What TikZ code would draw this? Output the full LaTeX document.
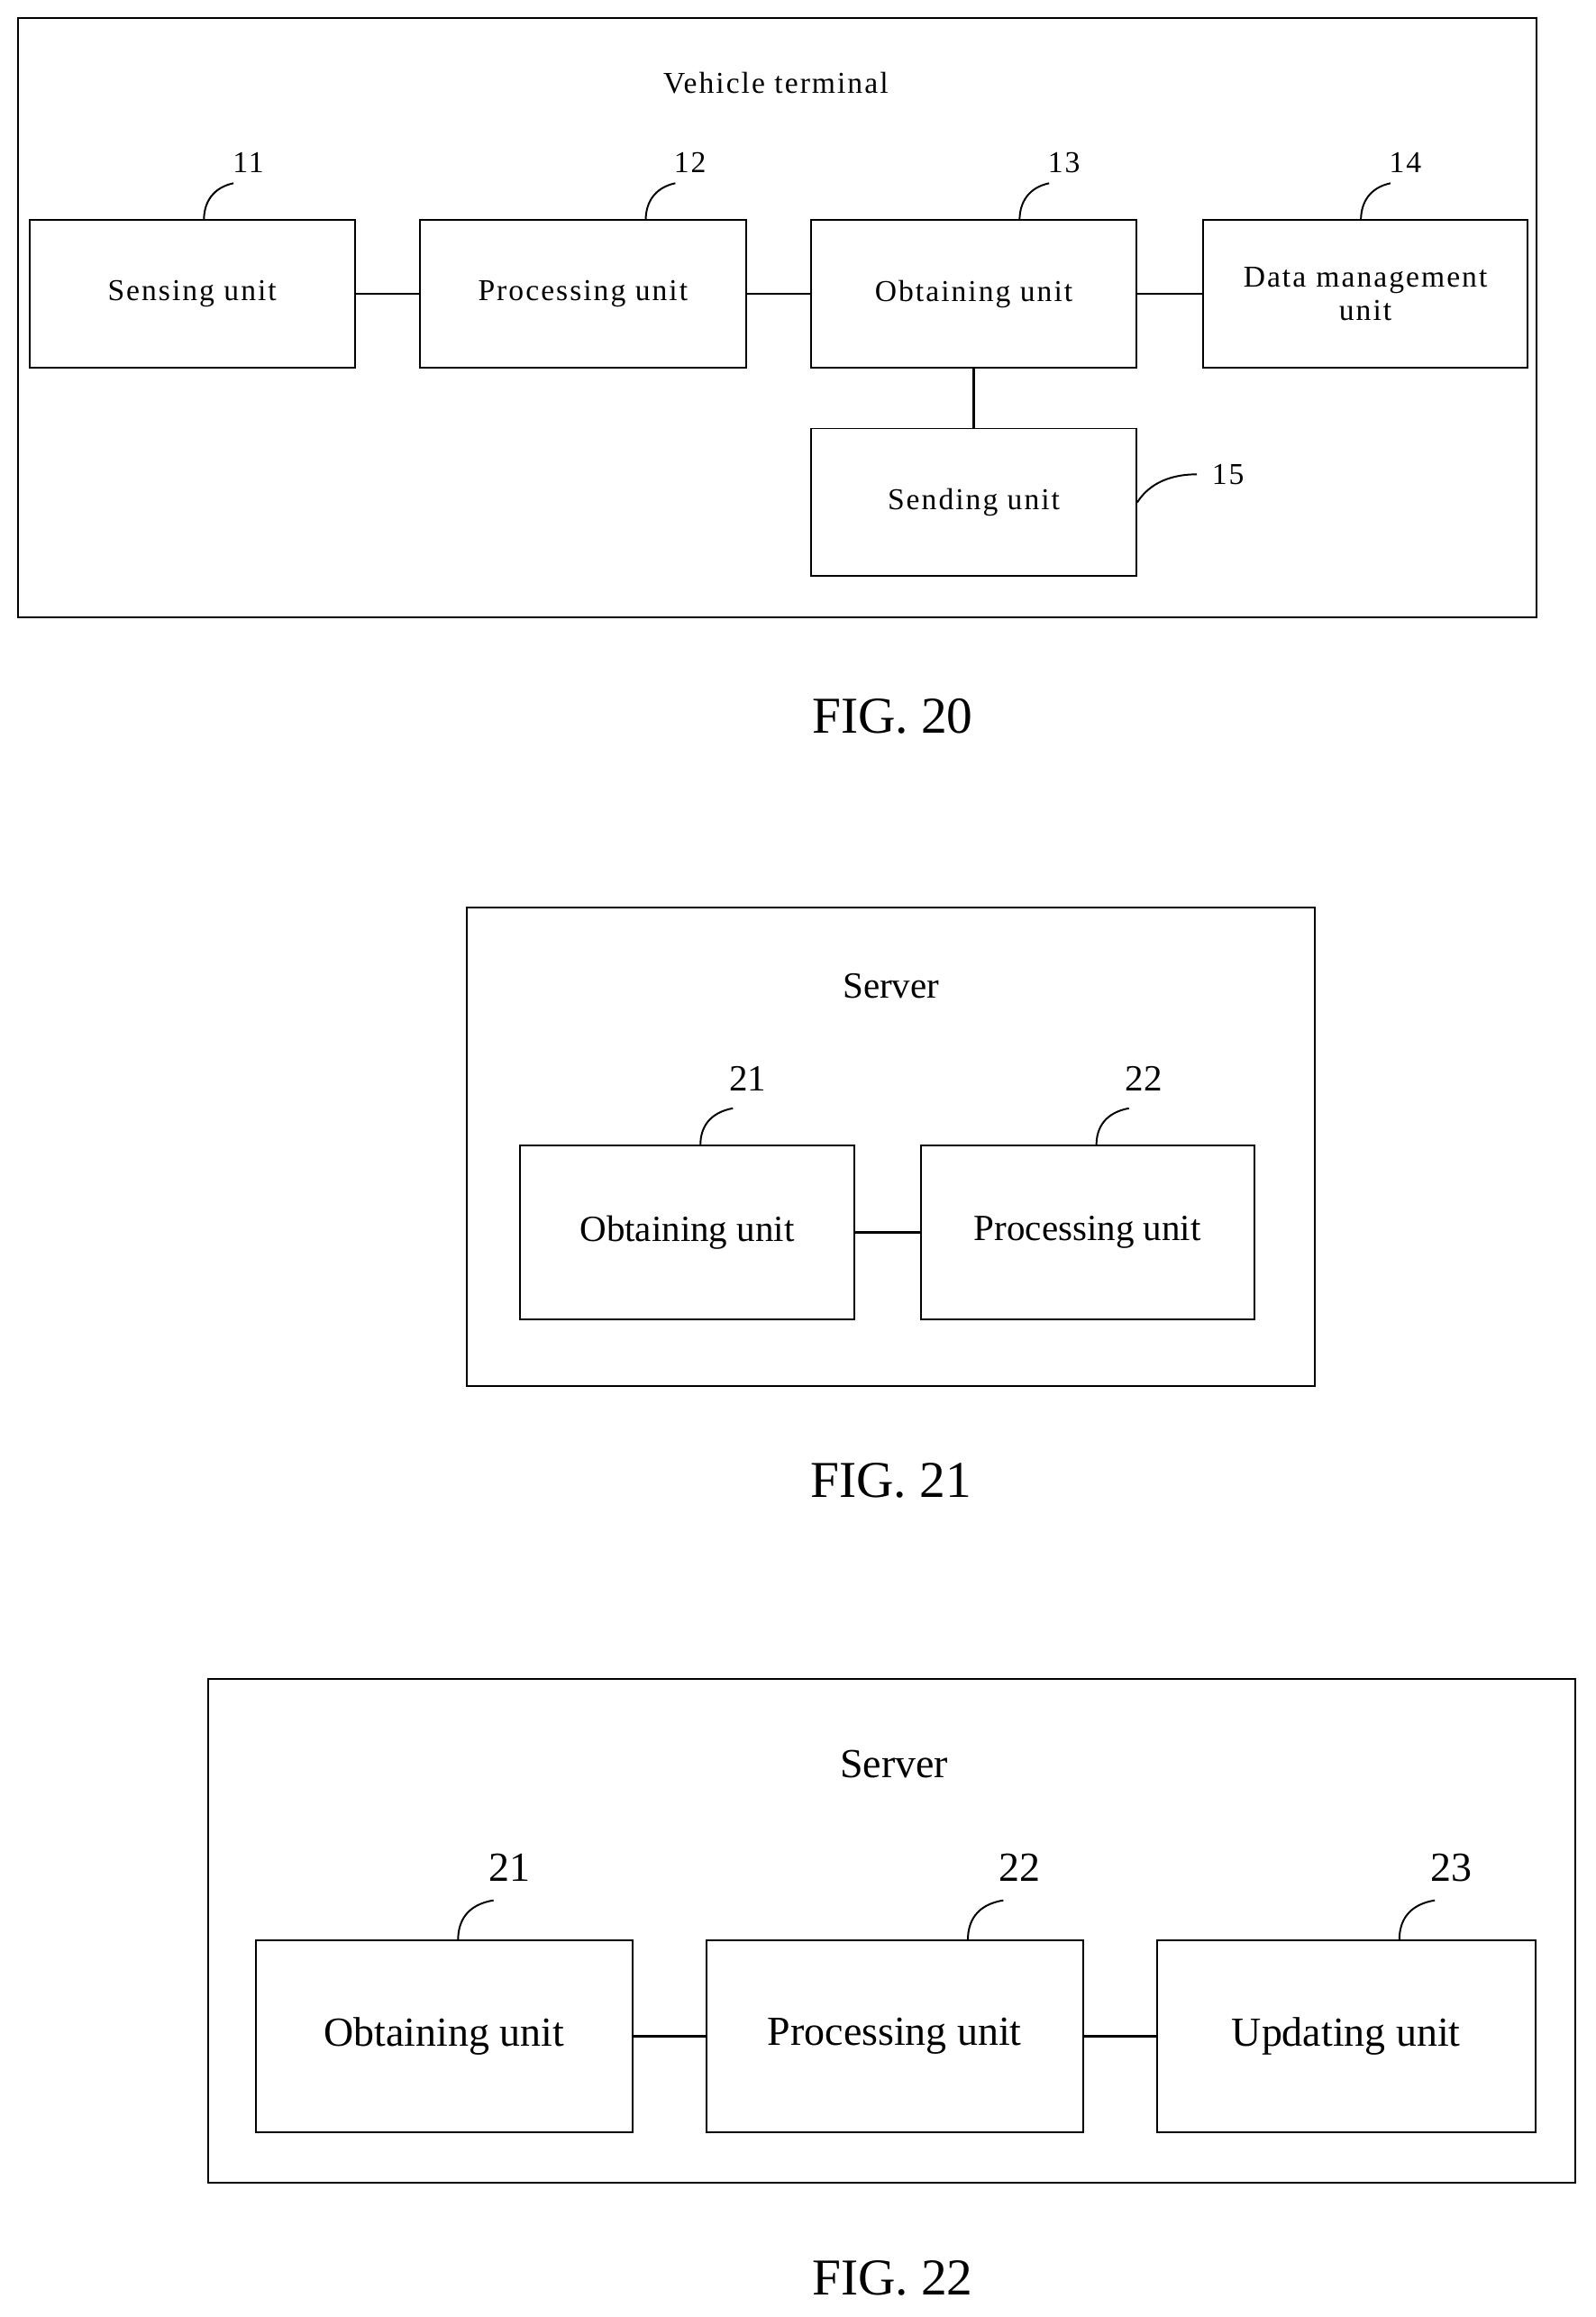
\documentclass[tikz,border=0pt]{standalone}
\usepackage{fontspec}
\setmainfont{Liberation Serif}
\begin{document}
\begin{tikzpicture}[x=1pt,y=-1pt,
 box/.style={draw,line width=1.2pt,inner sep=2pt,align=center},
 ln/.style={line width=1.4pt},
 lead/.style={line width=1.2pt},
 fa/.style={font=\fontsize{20.5}{24}\selectfont\addfontfeatures{LetterSpace=6}},
 fb/.style={font=\fontsize{25}{28}\selectfont},
 fc/.style={font=\fontsize{28}{31}\selectfont},
 fig/.style={font=\fontsize{35}{38}\selectfont}]
\useasboundingbox (0,0) rectangle (1080,1568);
% FIG 20
\node[box,minimum width=1028,minimum height=406] (o20) at (526,215) {};
\node[fa] (t20) at (525,56) {Vehicle terminal};
\node[box,fa,minimum width=220,minimum height=100] (a1) at (130,199) {Sensing unit};
\node[box,fa,minimum width=221,minimum height=100] (a2) at (394.5,199) {Processing unit};
\node[box,fa,minimum width=220,minimum height=100] (a3) at (659,199) {Obtaining unit};
\node[box,fa,minimum width=220,minimum height=100,text width=210] (a4) at (924,199) {Data management\\[-1pt]unit};
\node[box,fa,minimum width=220,minimum height=100] (a5) at (659,340) {Sending unit};
\draw[ln] (a1) -- (a2); \draw[ln] (a2) -- (a3); \draw[ln] (a3) -- (a4); \draw[ln] (a3) -- (a5);
\foreach \x/\n/\l in {138/a1/11,437/a2/12,690/a3/13,921/a4/14}{
 \coordinate (c\l) at (\x+20,124);
 \draw[lead] (\x,149) .. controls (\x,137) and (\x+6,127) .. (c\l);
 \node[fa] (n\l) at (\x+30,110) {\l};}
\coordinate (c15) at (810,321);
\draw[lead] (a5.east) ++(0,0) .. controls (776,330) and (788,321) .. (c15);
\node[fa] (n15) at (831,321) {15};
\node[fig] (f20) at (604,485) {FIG. 20};
% FIG 21
\node[box,minimum width=574,minimum height=324] (o21) at (603,776) {};
\node[fb] (t21) at (603,667) {Server};
\node[box,fb,minimum width=226,minimum height=118] (b1) at (465,834) {Obtaining unit};
\node[box,fb,minimum width=226,minimum height=118] (b2) at (736,834) {Processing unit};
\draw[ln] (b1) -- (b2);
\foreach \x/\l in {474/21,742/22}{
 \coordinate (d\l) at (\x+22,750);
 \draw[lead] (\x,775) .. controls (\x,763) and (\x+6,753) .. (d\l);
 \node[fb] (m\l) at (\x+32,730) {\l};}
\node[fig] (f21) at (603,1002) {FIG. 21};
% FIG 22
\node[box,minimum width=925,minimum height=341] (o22) at (603.5,1306.5) {};
\node[fc] (t22) at (605,1194) {Server};
\node[box,fc,minimum width=255,minimum height=130] (e1) at (300.5,1378) {Obtaining unit};
\node[box,fc,minimum width=255,minimum height=130] (e2) at (605.5,1378) {Processing unit};
\node[box,fc,minimum width=256,minimum height=130] (e3) at (911,1378) {Updating unit};
\draw[ln] (e1) -- (e2); \draw[ln] (e2) -- (e3);
\foreach \x/\l/\m in {310/21/p,655/22/q,947/23/r}{
 \coordinate (g\m) at (\x+24,1286);
 \draw[lead] (\x,1313) .. controls (\x,1300) and (\x+6,1289) .. (g\m);
 \node[fc] (k\m) at (\x+35,1264) {\l};}
\node[fig] (f22) at (604,1542) {FIG. 22};
\end{tikzpicture}
\end{document}
